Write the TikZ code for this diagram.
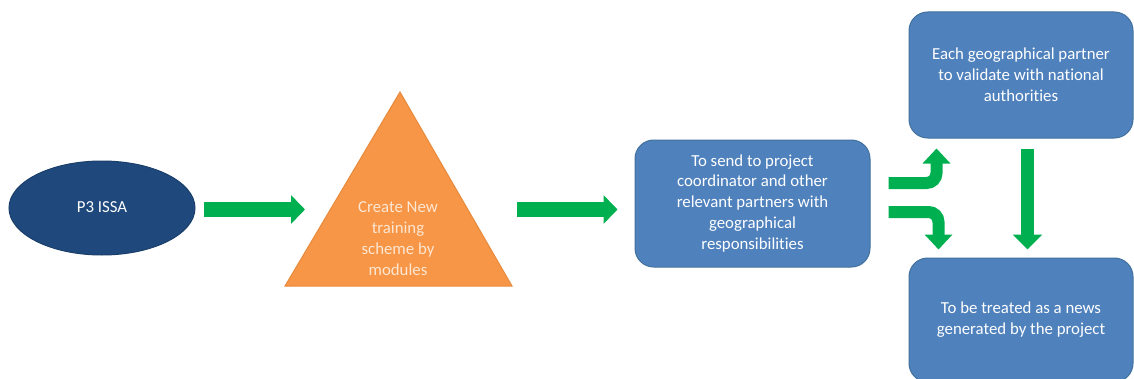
\documentclass[tikz,border=0pt]{standalone}
\usepackage{fontspec}
\setmainfont{Carlito}[Ligatures=NoCommon]
\usetikzlibrary{arrows.meta,shapes.geometric}
\definecolor{boxblue}{HTML}{4F81BD}
\definecolor{boxedge}{HTML}{41719C}
\definecolor{navy}{HTML}{1F497D}
\definecolor{trifill}{HTML}{F79646}
\definecolor{triedge}{HTML}{E88A3C}
\definecolor{tritext}{HTML}{FDE6D2}
\definecolor{grn}{HTML}{00B050}
\begin{document}
\begin{tikzpicture}[x=0.75pt,y=-0.75pt,
  txt/.style={font=\fontsize{12.6}{15.6}\selectfont, text=white, align=center},
  bluebox/.style={txt, rectangle, rounded corners=14pt, fill=boxblue, draw=boxedge, line width=0.75pt},
  garrow/.style={draw=grn, line width=11.25pt, -{Triangle[width=21pt,length=10.5pt]}},
  gbent/.style={draw=grn, line width=9pt, rounded corners=7.5pt, -{Triangle[width=20.25pt,length=11.25pt]}},
  gvert/.style={draw=grn, line width=9.75pt, -{Triangle[width=21.75pt,length=11.25pt]}}]
\useasboundingbox (0,0) rectangle (1134,378);
\fill[white] (0,0) rectangle (1134,378);

% ellipse
\node[txt, ellipse, fill=navy, draw=navy!85!black, line width=0.75pt,
      minimum width=139.5pt, minimum height=70.5pt] (ell) at (102,208) {\raisebox{1.5pt}{P3 ISSA}};

% triangle
\coordinate (ta) at (400,92);
\coordinate (tl) at (285,286);
\coordinate (tr) at (512,286);
\filldraw[fill=trifill, draw=triedge, line width=0.75pt, line join=miter] (ta) -- (tr) -- (tl) -- cycle;
\node[txt, text=tritext] (tri) at (398,238.5) {Create New\\training\\scheme by\\modules};

% boxes
\node[bluebox, minimum width=176.25pt, minimum height=95.25pt] (send) at (752.5,203.5)
  {\raisebox{4pt}{\begin{tabular}{@{}c@{}}To send to project\\coordinator and other\\relevant partners with\\geographical\\responsibilities\end{tabular}}};
\node[bluebox, minimum width=168pt, minimum height=94.5pt] (valid) at (1021,75)
  {Each geographical partner\\to validate with national\\authorities};
\node[bluebox, minimum width=168pt, minimum height=93pt] (news) at (1021,320)
  {To be treated as a news\\generated by the project};

% arrow end points
\coordinate (a1e) at (305,209.5);
\coordinate (a2s) at (517,209.5);

% connectors
\draw[garrow] ([shift={(8,1.5)}]ell.east) -- (a1e);
\draw[garrow] (a2s) -- ([shift={(-17,6)}]send.west);
\draw[gbent] ([shift={(18,-20.5)}]send.east) -| ([shift={(28,10)}]valid.south west);
\draw[gbent] ([shift={(18,8.5)}]send.east) -| ([shift={(30,-8)}]news.north west);
\draw[gvert] ([shift={(6.5,10)}]valid.south) -- ([shift={(6.5,-8)}]news.north);
\end{tikzpicture}
\end{document}
